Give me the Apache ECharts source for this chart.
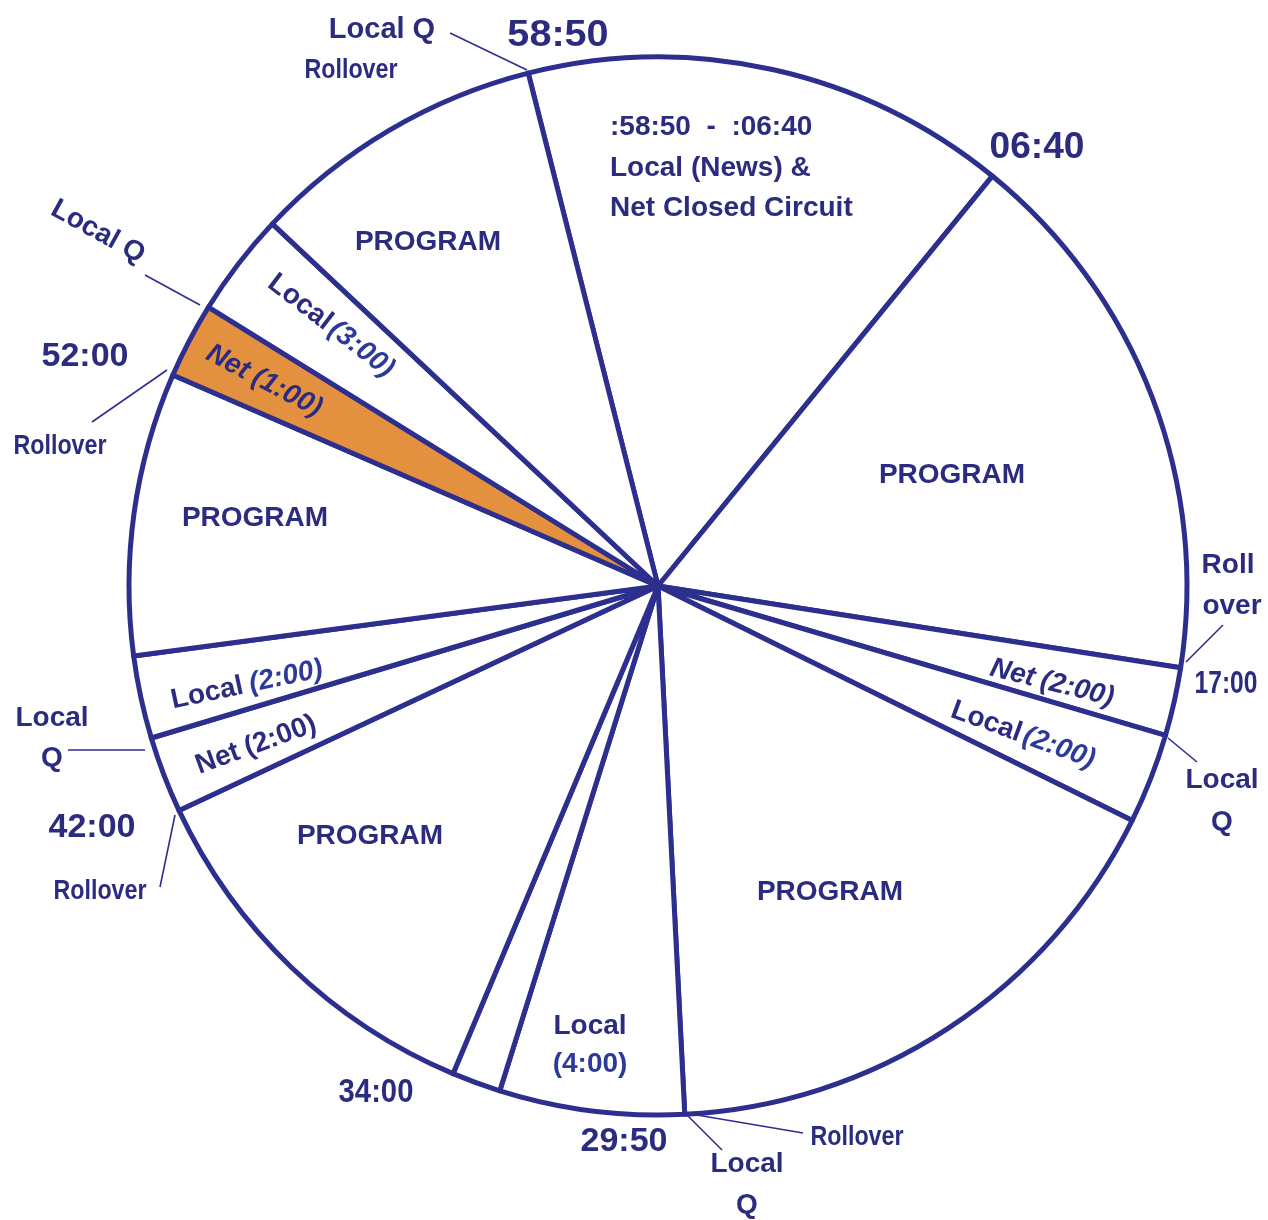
<!DOCTYPE html>
<html>
<head>
<meta charset="utf-8">
<script src="https://cdn.jsdelivr.net/npm/echarts@6/dist/echarts.min.js"></script>
<style>
html,body{margin:0;padding:0;background:#fff;}
#chart{width:1268px;height:1220px;}
</style>
</head>
<body>
<div id="chart"></div>
<script>
// Segments clockwise, starting at the 58:50 spoke
const segmentNames = [
  'Local (News) & Net Closed Circuit', 'PROGRAM', 'Net (2:00)', 'Local (2:00)',
  'PROGRAM', 'Local (4:00)', 'Gap', 'PROGRAM', 'Net (2:00)', 'Local (2:00)',
  'PROGRAM', 'Net (1:00)', 'Local (3:00)', 'PROGRAM'
];
// Drawn size of each slice, in degrees of the dial
const sliceSpan = [53.4, 59.7, 7.5, 9.9, 60.8, 20.3, 5.4, 42.1, 8.4, 9.1, 31.1, 8.3, 11.4, 32.6];
const highlightIndex = 11; // Net (1:00) after 52:00
// Time marks on the dial
const timeLabels = ['58:50', '06:40', '17:00', '29:50', '34:00', '42:00', '52:00'];

const NAVY = '#2D2F8E';
const TEXT = '#2B2C80';
const BLUE2 = '#2E3A99';
const ORANGE = '#E4913F';
const FONT = '"Liberation Sans", Arial, sans-serif';

const chart = echarts.init(document.getElementById('chart'), null, {renderer: 'canvas'});

const deg = d => d * Math.PI / 180;

// rot: degrees, positive = anticlockwise
function txt(text, x, y, opts) {
  opts = opts || {};
  const size = opts.size || 28;
  return {
    type: 'text',
    x: x, y: y,
    rotation: opts.rot ? deg(opts.rot) : 0,
    scaleX: opts.sx || 1,
    silent: true,
    z: 10,
    style: {
      text: text,
      x: 0, y: 0,
      fill: opts.color || TEXT,
      font: (opts.italic ? 'italic ' : '') + 'bold ' + size + 'px ' + FONT,
      align: opts.align || 'center',
      verticalAlign: 'middle'
    }
  };
}
function richTxt(text, x, y, rot, rich) {
  return {
    type: 'text', x: x, y: y, rotation: deg(rot), silent: true, z: 10,
    style: {text: text, x: 0, y: 0, align: 'center', verticalAlign: 'middle', rich: rich}
  };
}
function lead(x1, y1, x2, y2) {
  return {type: 'line', silent: true, z: 5,
    shape: {x1: x1, y1: y1, x2: x2, y2: y2},
    style: {stroke: NAVY, lineWidth: 1.6}};
}

const rN = {fontFamily: FONT, fontWeight: 'bold', fontSize: 28, fill: TEXT};
const rI = {fontFamily: FONT, fontWeight: 'bold', fontStyle: 'italic', fontSize: 28, fill: BLUE2};
const rNI = {fontFamily: FONT, fontWeight: 'bold', fontStyle: 'italic', fontSize: 28, fill: TEXT};

const graphics = [
  // inner labels
  txt('PROGRAM', 428, 242),
  txt('PROGRAM', 952, 475),
  txt('PROGRAM', 255, 518),
  txt('PROGRAM', 370, 836),
  txt('PROGRAM', 830, 892),
  txt(':58:50  -  :06:40', 610, 127, {align: 'left'}),
  txt('Local (News) &', 610, 168, {align: 'left'}),
  txt('Net Closed Circuit', 610, 208, {align: 'left'}),
  txt('Local', 590, 1026),
  txt('(4:00)', 590, 1064, {color: BLUE2}),
  richTxt('{i|Net}  {i|(1:00)}', 264, 381, -27.6, {i: rNI}),
  richTxt('{n|Local} {i|(3:00)}', 331, 326, -37.5, {n: rN, i: rI}),
  richTxt('{i|Net}  {i|(2:00)}', 1052, 683, -14, {i: rNI}),
  richTxt('{n|Local} {i|(2:00)}', 1023, 735, -20, {n: rN, i: rI}),
  richTxt('{n|Local}  {i|(2:00)}', 247, 685, 12, {n: rN, i: rI}),
  richTxt('{n|Net}  {n|(2:00)}', 256, 745, 20, {n: rN}),
  // outer annotations
  txt('Local Q', 382, 30, {size: 29}),
  txt('Rollover', 351, 70, {sx: 0.83}),
  txt(timeLabels[0], 558, 36, {size: 36, sx: 1.1}),
  txt(timeLabels[1], 1037, 148, {size: 36, sx: 1.03}),
  txt('Local Q', 98, 232, {rot: -29}),
  txt(timeLabels[6], 85, 357, {size: 34}),
  txt('Rollover', 60, 446, {sx: 0.83}),
  txt('Roll', 1228, 565),
  txt('over', 1232, 606),
  txt(timeLabels[2], 1226, 684, {size: 32, sx: 0.77}),
  txt('Local', 1222, 780),
  txt('Q', 1222, 822),
  txt('Local', 52, 718),
  txt('Q', 52, 758),
  txt(timeLabels[5], 92, 828, {size: 34}),
  txt('Rollover', 100, 891, {sx: 0.83}),
  txt(timeLabels[4], 376, 1093, {size: 34, sx: 0.86}),
  txt(timeLabels[3], 624, 1142, {size: 34}),
  txt('Local', 747, 1164),
  txt('Q', 747, 1205),
  txt('Rollover', 857, 1137, {sx: 0.83}),
  // leader lines
  lead(450, 33, 527, 70),
  lead(145, 275, 200, 305),
  lead(92, 422, 167, 370),
  lead(1223, 625, 1186, 662),
  lead(1168, 738, 1197, 762),
  lead(68, 750, 145, 750),
  lead(160, 887, 175, 815),
  lead(685, 1113, 803, 1133),
  lead(685, 1113, 722, 1150)
];

chart.setOption({
  animation: false,
  backgroundColor: '#ffffff',
  graphic: graphics,
  series: [{
    type: 'pie',
    center: [658, 586],
    radius: [0, 529],
    startAngle: 104.2,
    clockwise: true,
    silent: true,
    avoidLabelOverlap: false,
    label: {show: false},
    labelLine: {show: false},
    emphasis: {disabled: true},
    itemStyle: {borderColor: NAVY, borderWidth: 5, borderJoin: 'round'},
    data: segmentNames.map((n, i) => ({
      name: n,
      value: sliceSpan[i],
      itemStyle: {color: i === highlightIndex ? ORANGE : '#ffffff'}
    }))
  }]
});
</script>
</body>
</html>
